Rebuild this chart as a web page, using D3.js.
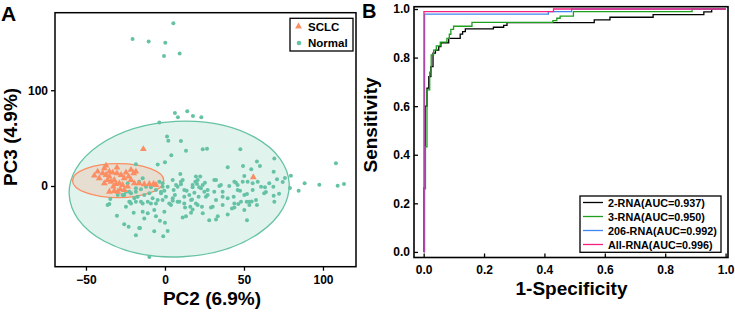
<!DOCTYPE html>
<html>
<head>
<meta charset="utf-8">
<script src="https://cdn.jsdelivr.net/npm/d3@7"></script>
<style>
  body { margin: 0; background: #fff; }
  svg { display: block; font-family: "Liberation Sans", Arial, sans-serif; }
  .tick text { font-size: 12px; font-weight: bold; fill: #000; }
</style>
</head>
<body>
<svg id="svgID" width="735" height="312"></svg>
<script>
// ---- panel A : PCA scores (PC2, PC3) ----
var normalPoints = [
  [5.3,170],[-20.5,153.5],[-10.3,150.8],[0.2,149.7],[-0.6,135.7],[9.3,138.5],
  [6.3,76.3],[8.2,71.7],[14.1,78],[17.7,73.1],[23,71.7],
  [-3.6,66.4],[1.3,51.7],[2.1,47.2],[10.1,46.9],[13.3,36.7],[23.9,38.5],[26.6,38.8],[47.7,38.5],
  [4,32.2],[0,24.9],[-4.6,22.4],[-18.4,22.8],[39.7,19.6],[49.4,21],[58.2,25.5],[60.1,21],
  [69.2,28.6],[68.8,15],[108.2,23.8],
  [79.7,10.8],[75.9,8.4],[70.9,7],[88.4,2.8],[97.7,1.4],[109.3,0.3],[113.3,2.1],[68.6,-0.7],
  [63.3,-1.4],[79.1,-2.1],[84.6,-4.9],[63.9,-6.3],[72.2,-8],[68.8,-10.1],[69.2,-16.4],[74.5,4.2],
  [54.6,17.5],[50.2,10.5],[58.7,4.5],[55.5,2.8],[49.2,4.5],[46,1],[44.9,3.5],[40.7,0],[36.5,-6],
  [32.3,6.3],[34.4,0],[39.7,-12.9],[43.5,-11.2],[47.5,-4.9],[51.9,-8.4],[51.7,-16.5],[54.9,-16.1],
  [46.4,-18.9],[43.9,-22.4],[31.2,-6],[32.3,-14.7],[29.1,-22.4],[23.4,-21.7],[25.9,-11.2],[27,-4.2],
  [23.9,1],[21.7,-1.4],[25.3,3.5],[22.3,9.8],[19.6,9.8],[19.2,4.5],[20.3,2.1],[17.5,-1.4],[18.6,-7],
  [21.3,-11.2],[17.1,-14],[19.6,-18.2],[16,-21.7],[13.7,-4.9],[12.2,-11.2],[10.1,1.8],[11.2,6.3],
  [9.7,12.6],[7,1],[5.5,-4.2],[6.3,-9.4],[9.1,-16.5],[4.9,-15.4],[2.7,-18.2],[0.6,-11.2],[-0.4,-4.9],
  [-1.5,2.8],[1.7,-0.7],[12.7,-22.4],
  [-36.3,-19.9],[-30.4,-31.2],[-25.8,-39.9],[-23,-42.7],[-18.4,-51.4],[-16.3,-43.8],[-13.1,-33.9],
  [-19.8,-28],[-24.7,-21.7],[-22.2,-16.5],[-14.1,-27],[-10.9,-28.6],[-6.8,-47.2],[-5.7,-31.5],
  [-3.2,-36.4],[-1.1,-52.5],[0,-38.5],[1.7,-46.9],[-6.8,-25.2],[-9.9,-74.2],[-0.4,-27],[3.8,-19.9],
  [11.2,-32.8],[13.3,-31.5],[16.5,-28],[17.5,-24.5],[23.9,-28.6],[28,-35.7],[30.2,-21.7],[33.4,-31.5],
  [36.5,-19.9],[42.4,-23.4],[50.2,-25.2],[51.9,-35.7],[53.4,-19.9],
  [-15.8,-44],[39.7,-29.7],[58.2,-19.9],[57.6,-14.7],[32.3,-35],
  [-14.1,8.1],[-16.3,4.5],[-12,-0.7],[-15.2,-3.5],[-18.4,-6],[-21.5,-7.7],[-24.7,-6],[-26.8,-9.4],
  [-17.3,-11.2],[-13.1,-9.4],[-9.9,-7.7],[-7.8,-12.9],[-10.9,-16.5],[-14.1,-18.2],[-18.4,-16.5],
  [-22.6,-16.5],[-29.9,-9.4],[-34.6,-13.6],[-35.2,-18.9],[-5.7,-18.2],[-2.5,-7.7],[-1.5,-14.7],
  [-5.7,-4.2],[-23.6,2.8],[-8.9,-1.4],[-1.5,-0.7],[-3.6,4.5],
  [4.9,6.3],[8,-0.7],[10.1,4.5],[12.2,-4.2],[15.4,-9.4],[17.5,1],[20.7,6.3],[22.8,-2.4],[24.9,-6],
  [27,-9.4],[4.9,-12.9],[8,-16.5],[12.2,-18.2],[16.5,-14.7],[20.7,-19.9],[-2.5,-6],[-4.6,-14.7],
  [-8.9,-18.2],[-15.2,-16.5],[-19.4,-12.9],[-21.5,-18.2],[-22.6,-6],[-18.4,-2.4],[-25.8,-9.4],
  [31.2,6.3],[35.4,1],[36.5,-11.2],[43.9,4.5],[46,-4.2],[52.3,4.5],[55.5,-4.2],[60.8,-0.7],
  [62.8,-7.7],[66,2.8],[50.2,-9.4],[48.1,-16.5],[43.9,-18.2],[53.4,-16.5]
];
var sclcPoints = [
  [-13.7,38.5],[55.9,9.1],
  [-44.7,10.8],[-37.3,21.3],[-30.4,19.2],[-42.6,15],[-39.4,13.3],[-37.3,11.5],[-35.2,9.8],
  [-33.1,14],[-30.4,13.3],[-27.8,11.5],[-24.7,14],[-21.5,16.8],[-19.8,13.3],[-18.4,15],[-23,9.8],
  [-36.3,6.3],[-34.2,4.5],[-32.1,6.3],[-31,2.1],[-28.9,2.8],[-26.8,1],[-32.7,-0.7],[-35.2,-6],
  [-32.1,-5.2],[-29.9,-6],[-28.3,-3.5],[-25.8,-4.2],[-21.5,6.3],[-19.4,2.8],[-16.3,2.8],[-13.1,1.8],
  [-9.9,2.1],[-7.2,2.1],[-5.7,1],[-38.4,2.8],[-41.6,8.1],[-23.6,-0.7],[-35.2,15],[-25.8,8.1],[-38.4,18.6]
];
// confidence ellipses: centre, semi-axes (data units), tilt in degrees
var normalEllipse = [9, -3.2, 69.7, 70.8, -3];
var sclcEllipse = [-29.6, 5.6, 28.9, 17.8, 0];
var pcaXTicks = [-50, 0, 50, 100];
var pcaYTicks = [0, 100];
var groupNames = ["SCLC", "Normal"];

// ---- panel B : ROC curves (vertices where each vertical step ends) ----
var roc2Fpr = [0,0,0.005,0.011,0.017,0.024,0.031,0.039,0.05,0.057,0.083,0.121,0.129,0.138,0.231,0.265,0.276,0.565,0.617,0.76,0.928,0.954,1];
var roc2Tpr = [0,0.262,0.6,0.674,0.722,0.763,0.818,0.831,0.845,0.861,0.879,0.897,0.907,0.918,0.925,0.933,0.944,0.955,0.966,0.977,0.988,1,1];
var roc3Fpr = [0,0,0.006,0.011,0.02,0.025,0.033,0.042,0.055,0.077,0.085,0.09,0.099,0.16,0.428,0.441,0.452,0.496,0.889,1];
var roc3Tpr = [0,0.26,0.433,0.667,0.74,0.811,0.831,0.848,0.864,0.879,0.896,0.916,0.929,0.945,0.952,0.962,0.971,0.989,1,1];
var roc206Fpr = [0,0.003,0.413,0.49,1];
var roc206Tpr = [0,0.979,0.989,1,1];
var rocAllFpr = [0,0.001,0.43,1];
var rocAllTpr = [0,0.989,1,1];
var rocLabels = ["2-RNA(AUC=0.937)", "3-RNA(AUC=0.950)", "206-RNA(AUC=0.992)", "All-RNA(AUC=0.996)"];
var rocTicks = [0, 0.2, 0.4, 0.6, 0.8, 1.0];

var svg = d3.select("#svgID");
var green = "#66c2a5", orange = "#fc8d62";
var rocColors = ["#000000", "#1f9e1f", "#3d86ee", "#f5207f"];

// ================= panel A =================
var boxA = {left: 55, top: 12.7, right: 356, bottom: 266.7};
var xA = d3.scaleLinear().domain([-69.6, 120.9]).range([boxA.left, boxA.right]);
var yA = d3.scaleLinear().domain([-84.3, 181]).range([boxA.bottom, boxA.top]);

var gA = svg.append("g");

function drawEllipse(e, color) {
  var cx = xA(e[0]), cy = yA(e[1]);
  gA.append("ellipse")
    .attr("cx", cx).attr("cy", cy)
    .attr("rx", xA(e[0] + e[2]) - cx)
    .attr("ry", cy - yA(e[1] + e[3]))
    .attr("transform", "rotate(" + e[4] + "," + cx + "," + cy + ")")
    .attr("fill", color).attr("fill-opacity", 0.2)
    .attr("stroke", color).attr("stroke-width", 1.3);
}
drawEllipse(normalEllipse, green);
drawEllipse(sclcEllipse, orange);

gA.selectAll(".normal")
  .data(normalPoints)
  .enter()
  .append("circle")
    .attr("cx", function(d) { return xA(d[0]); })
    .attr("cy", function(d) { return yA(d[1]); })
    .attr("r", 2)
    .attr("fill", green);

var tri = d3.symbol().type(d3.symbolTriangle).size(20);
gA.selectAll(".sclc")
  .data(sclcPoints)
  .enter()
  .append("path")
    .attr("d", tri)
    .attr("transform", function(d) { return "translate(" + xA(d[0]) + "," + yA(d[1]) + ")"; })
    .attr("fill", orange);

gA.append("rect")
  .attr("x", boxA.left).attr("y", boxA.top)
  .attr("width", boxA.right - boxA.left).attr("height", boxA.bottom - boxA.top)
  .attr("fill", "none").attr("stroke", "#000").attr("stroke-width", 1.5);

svg.append("g")
  .attr("transform", "translate(0," + boxA.bottom + ")")
  .call(d3.axisBottom(xA).tickValues(pcaXTicks).tickSize(4).tickPadding(5));
svg.append("g")
  .attr("transform", "translate(" + boxA.left + ",0)")
  .call(d3.axisLeft(yA).tickValues(pcaYTicks).tickSize(4).tickPadding(3));

// legend A
var legA = svg.append("g");
legA.append("rect").attr("x", 290).attr("y", 18.3).attr("width", 63).attr("height", 32.7)
  .attr("fill", "#fff").attr("stroke", "#000").attr("stroke-width", 1.3);
legA.append("path").attr("d", tri).attr("transform", "translate(298.5,26.5)").attr("fill", orange);
legA.append("circle").attr("cx", 299).attr("cy", 43).attr("r", 2.3).attr("fill", green);
legA.selectAll("text").data(groupNames).enter().append("text")
  .attr("x", 308).attr("y", function(d, i) { return 30.7 + i * 16.3; })
  .attr("font-size", 11.5).attr("font-weight", "bold").text(function(d) { return d; });

svg.append("text").attr("x", 212).attr("y", 305).attr("text-anchor", "middle")
  .attr("font-size", 19).attr("font-weight", "bold").text("PC2 (6.9%)");
svg.append("text").attr("transform", "translate(17,137) rotate(-90)").attr("text-anchor", "middle")
  .attr("font-size", 19).attr("font-weight", "bold").text("PC3 (4.9%)");
svg.append("text").attr("x", 1).attr("y", 20.7)
  .attr("font-size", 21).attr("font-weight", "bold").text("A");

// ================= panel B =================
var boxB = {left: 414, top: 6.7, right: 728, bottom: 257.5};
var xB = d3.scaleLinear().domain([-0.032, 1.008]).range([boxB.left, boxB.right]);
var yB = d3.scaleLinear().domain([-0.023, 1.0095]).range([boxB.bottom, boxB.top]);

var gB = svg.append("g");
var rocData = [
  d3.zip(roc2Fpr, roc2Tpr),
  d3.zip(roc3Fpr, roc3Tpr),
  d3.zip(roc206Fpr, roc206Tpr),
  d3.zip(rocAllFpr, rocAllTpr)
];
var rocLine = d3.line()
  .x(function(d) { return xB(d[0]); })
  .y(function(d) { return yB(d[1]); })
  .curve(d3.curveStepAfter);

gB.selectAll(".roc")
  .data(rocData)
  .enter()
  .append("path")
    .attr("d", rocLine)
    .attr("fill", "none")
    .attr("stroke", function(d, i) { return rocColors[i]; })
    .attr("stroke-width", 1.3);

gB.append("rect")
  .attr("x", boxB.left).attr("y", boxB.top)
  .attr("width", boxB.right - boxB.left).attr("height", boxB.bottom - boxB.top)
  .attr("fill", "none").attr("stroke", "#000").attr("stroke-width", 1.6);

svg.append("g")
  .attr("transform", "translate(0," + boxB.bottom + ")")
  .call(d3.axisBottom(xB).tickValues(rocTicks).tickFormat(d3.format(".1f")).tickSize(-4).tickPadding(8));
svg.append("g")
  .attr("transform", "translate(" + boxB.left + ",0)")
  .call(d3.axisLeft(yB).tickValues(rocTicks).tickFormat(d3.format(".1f")).tickSize(-4).tickPadding(4));

svg.selectAll(".domain").remove();
svg.selectAll(".tick line").attr("stroke", "#000").attr("stroke-width", 1.3);

// legend B
var legB = svg.append("g");
legB.append("rect").attr("x", 580).attr("y", 196).attr("width", 141).attr("height", 56.3)
  .attr("fill", "#fff").attr("stroke", "#000").attr("stroke-width", 1.3);
rocLabels.forEach(function(lab, i) {
  var yy = 202.5 + i * 14;
  legB.append("line").attr("x1", 583).attr("x2", 603).attr("y1", yy).attr("y2", yy)
    .attr("stroke", rocColors[i]).attr("stroke-width", 1.3);
  legB.append("text").attr("x", 608).attr("y", yy + 4)
    .attr("font-size", 10.8).attr("font-weight", "bold").text(lab);
});

svg.append("text").attr("x", 571.5).attr("y", 295).attr("text-anchor", "middle")
  .attr("font-size", 19).attr("font-weight", "bold").text("1-Specificity");
svg.append("text").attr("transform", "translate(377,125) rotate(-90)").attr("text-anchor", "middle")
  .attr("font-size", 19).attr("font-weight", "bold").text("Sensitivity");
svg.append("text").attr("x", 362).attr("y", 18)
  .attr("font-size", 20).attr("font-weight", "bold").text("B");
</script>
</body>
</html>
